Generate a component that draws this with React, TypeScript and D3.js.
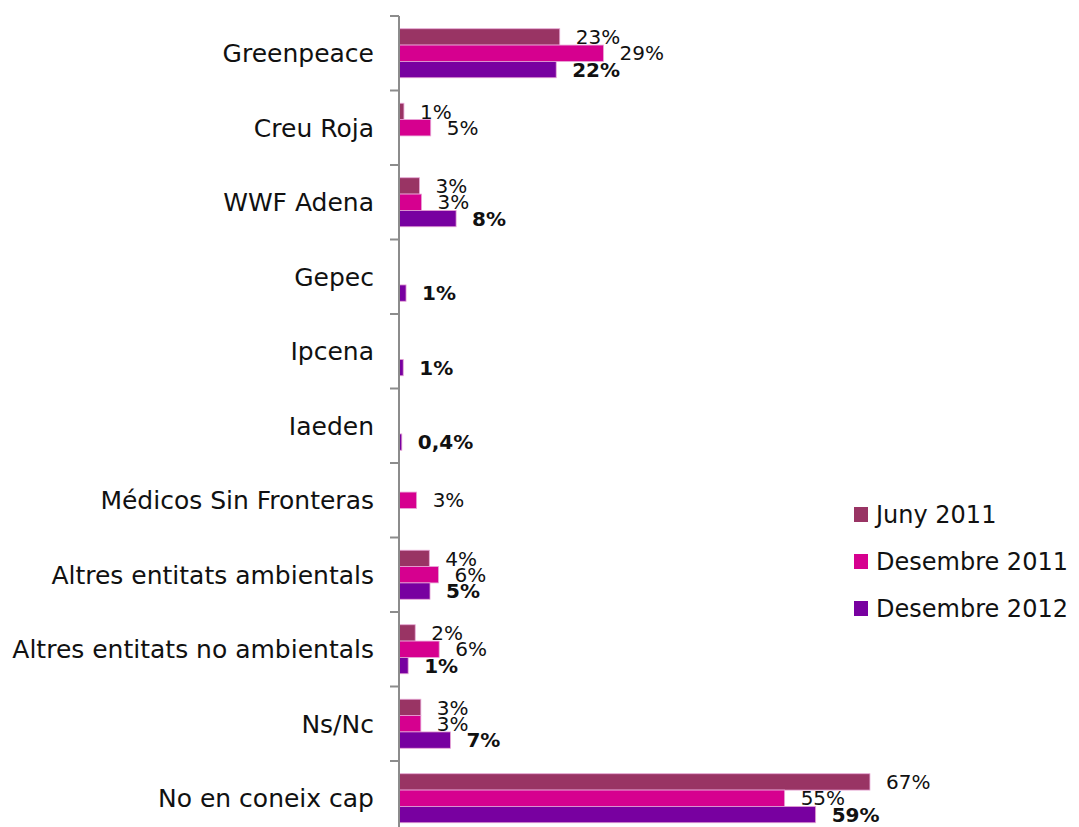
import React from "react";
import * as d3 from "d3";

const categories = [
  "Greenpeace",
  "Creu Roja",
  "WWF Adena",
  "Gepec",
  "Ipcena",
  "Iaeden",
  "Médicos Sin Fronteras",
  "Altres entitats ambientals",
  "Altres entitats no ambientals",
  "Ns/Nc",
  "No en coneix cap",
];

const seriesNames = ["Juny 2011", "Desembre 2011", "Desembre 2012"];
const seriesColors = ["#993464", "#D6008F", "#7800A0"];

const juny2011 = [22.8, 0.7, 2.9, 0, 0, 0, 0, 4.3, 2.3, 3.1, 66.8];
const des2011 = [29.0, 4.5, 3.2, 0, 0, 0, 2.5, 5.6, 5.7, 3.1, 54.7];
const des2012 = [22.3, 0, 8.1, 1.0, 0.6, 0.4, 0, 4.4, 1.3, 7.3, 59.1];

const labJuny = ["23%", "1%", "3%", "", "", "", "", "4%", "2%", "3%", "67%"];
const labD11 = ["29%", "5%", "3%", "", "", "", "3%", "6%", "6%", "3%", "55%"];
const labD12 = ["22%", "", "8%", "1%", "1%", "0,4%", "", "5%", "1%", "7%", "59%"];

const seriesValues = [juny2011, des2011, des2012];
const seriesLabels = [labJuny, labD11, labD12];

const FONT = "'DejaVu Sans', sans-serif";

export default function App() {
  const width = 1079;
  const height = 827;
  const axisX = 399;
  const top = 16;
  const step = 74.5;

  const x = d3.scaleLinear().domain([0, 100]).range([axisX, axisX + 705]);
  const y0 = d3
    .scaleBand<string>()
    .domain(categories)
    .range([top, top + step * categories.length])
    .paddingInner(0.342)
    .paddingOuter(0.171);
  const y1 = d3
    .scaleBand<string>()
    .domain(seriesNames)
    .range([0, y0.bandwidth()]);

  const ticks = d3.range(categories.length + 1).map((i) => top + i * step);

  return (
    <svg
      width={width}
      height={height}
      style={{ position: "absolute", left: 0, top: 0, background: "#fff" }}
      fontFamily={FONT}
    >
      {/* bars */}
      {seriesNames.map((s, si) =>
        categories.map((c, ci) => {
          const v = seriesValues[si][ci];
          if (!v) return null;
          return (
            <rect
              key={s + c}
              x={x(0)}
              y={(y0(c) as number) + (y1(s) as number)}
              width={x(v) - x(0)}
              height={y1.bandwidth()}
              fill={seriesColors[si]}
              stroke="#e8a6d6"
              strokeWidth={0.8}
            />
          );
        })
      )}
      {/* data labels */}
      {seriesNames.map((s, si) =>
        categories.map((c, ci) => {
          const lab = seriesLabels[si][ci];
          if (!lab) return null;
          const v = seriesValues[si][ci];
          return (
            <text
              key={"l" + s + c}
              x={x(v) + 16}
              y={(y0(c) as number) + (y1(s) as number) + y1.bandwidth() / 2}
              dy="0.36em"
              fontSize={20}
              fontWeight={si === 2 ? "bold" : "normal"}
              fill="#111"
            >
              {lab}
            </text>
          );
        })
      )}
      {/* axis */}
      <line x1={axisX} x2={axisX} y1={top} y2={height + 20} stroke="#8c8c8c" strokeWidth={2} />
      {ticks.map((t, i) => (
        <line key={"t" + i} x1={axisX - 9} x2={axisX} y1={t} y2={t} stroke="#8c8c8c" strokeWidth={2} />
      ))}
      {categories.map((c) => (
        <text
          key={"c" + c}
          x={axisX - 25}
          y={(y0(c) as number) + y0.bandwidth() / 2}
          dy="0.36em"
          textAnchor="end"
          fontSize={25}
          fill="#111"
        >
          {c}
        </text>
      ))}
      {/* legend */}
      {seriesNames.map((s, si) => (
        <g key={"lg" + s} transform={`translate(854, ${507 + si * 47})`}>
          <rect width={14} height={15} fill={seriesColors[si]} />
          <text x={22} y={7.5} dy="0.36em" fontSize={24} fill="#111">
            {s}
          </text>
        </g>
      ))}
    </svg>
  );
}
